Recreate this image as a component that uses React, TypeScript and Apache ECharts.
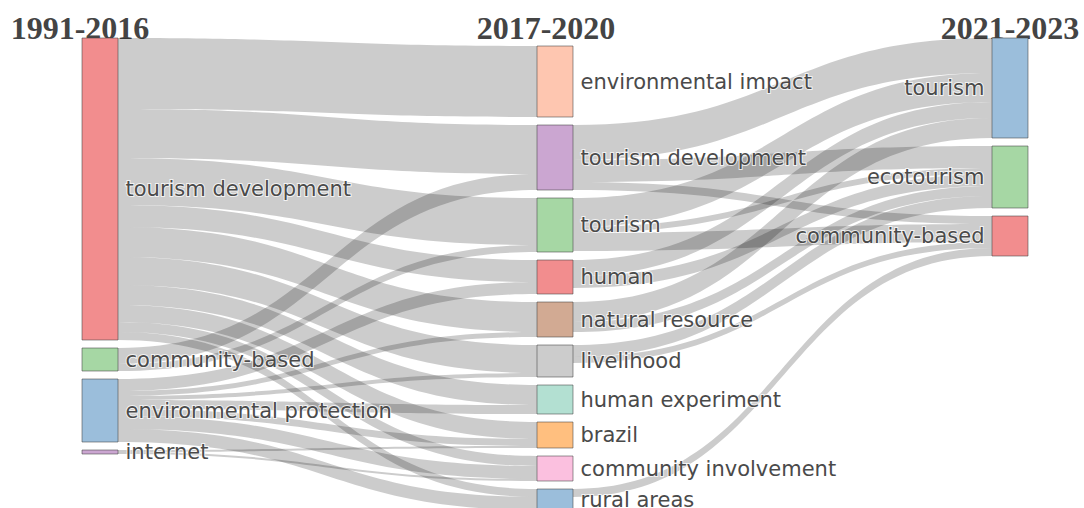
import React, { useEffect, useRef } from "react";
import * as echarts from "echarts";

// Period headers and themes per period
const periods = ["1991-2016", "2017-2020", "2021-2023"];
const themes1991 = ["tourism development", "community-based", "environmental protection", "internet"];
const themes2017 = [
  "environmental impact",
  "tourism development",
  "tourism",
  "human",
  "natural resource",
  "livelihood",
  "human experiment",
  "brazil",
  "community involvement",
  "rural areas",
];
const themes2021 = ["tourism", "ecotourism", "community-based"];

// [theme index in earlier period, theme index in later period, weight]
const flows1991to2017: [number, number, number][] = [
  [0, 0, 71], [0, 1, 49], [0, 2, 47], [0, 3, 22], [0, 4, 30], [0, 5, 28], [0, 6, 20], [0, 7, 17], [0, 8, 10], [0, 9, 8],
  [1, 1, 16], [1, 2, 7],
  [2, 3, 12], [2, 4, 5], [2, 5, 4], [2, 6, 9], [2, 7, 7], [2, 8, 13], [2, 9, 13],
  [3, 7, 2], [3, 8, 2],
];
const flows2017to2021: [number, number, number][] = [
  [1, 0, 35], [1, 1, 22], [1, 2, 8],
  [2, 0, 29], [2, 1, 6], [2, 2, 18],
  [3, 0, 16], [3, 1, 12],
  [4, 0, 20], [4, 1, 10],
  [5, 1, 12], [5, 2, 6],
  [9, 2, 8],
];

// Styles
const colors1991 = ["#F28D8E", "#A6D7A4", "#9BBEDB", "#CBA6D1"];
const colors2017 = ["#FEC6B0", "#CBA6D1", "#A6D7A4", "#F28D8E", "#D2AA93", "#CCCCCC", "#B3E0D2", "#FFBF7F", "#FBC0DF", "#9BBEDB"];
const colors2021 = ["#9BBEDB", "#A6D7A4", "#F28D8E"];
const headerCenters = [80, 546, 1010];

export default function App() {
  const ref = useRef<HTMLDivElement>(null);

  useEffect(() => {
    document.body.style.margin = "0";
    if (!ref.current) return;
    const chart = echarts.init(ref.current, undefined, { renderer: "svg" });

    const columns = [themes1991, themes2017, themes2021];
    const columnColors = [colors1991, colors2017, colors2021];
    const nodes: any[] = [];
    const offsets: number[] = [];
    columns.forEach((names, depth) => {
      if (depth === 1) {
        // invisible spacer that nudges the middle column down by one gap
        nodes.push({
          name: "__spacer__",
          theme: "",
          depth: 1,
          value: 0,
          itemStyle: { opacity: 0, borderWidth: 0 },
          label: { show: false },
          silent: true,
        });
      }
      offsets[depth] = nodes.length;
      names.forEach((theme, i) => {
        nodes.push({
          name: `${periods[depth]}|${theme}`,
          theme,
          depth,
          itemStyle: { color: columnColors[depth][i] },
          label: depth === 2 ? { position: "left" } : { position: "right" },
        });
      });
    });

    const links = [
      ...flows1991to2017.map(([s, t, v]) => ({ source: offsets[0] + s, target: offsets[1] + t, value: v })),
      ...flows2017to2021.map(([s, t, v]) => ({ source: offsets[1] + s, target: offsets[2] + t, value: v })),
    ];

    chart.setOption({
      animation: false,
      backgroundColor: "#ffffff",
      graphic: periods.map((p, i) => ({
        type: "text",
        x: headerCenters[i],
        y: 28,
        silent: true,
        style: {
          text: p,
          fontFamily: "Liberation Serif",
          fontWeight: "bold",
          fontSize: 32,
          fill: "#444444",
          align: "center",
          verticalAlign: "middle",
        },
      })),
      series: [
        {
          type: "sankey",
          left: 82,
          top: 38,
          width: 946,
          height: 472,
          nodeWidth: 36,
          nodeGap: 8,
          layoutIterations: 0,
          nodeAlign: "left",
          draggable: false,
          emphasis: { disabled: true },
          data: nodes,
          links,
          itemStyle: { borderColor: "rgba(68,68,68,0.55)", borderWidth: 1 },
          lineStyle: { color: "#000000", opacity: 0.2, curveness: 0.5 },
          label: {
            show: true,
            distance: 7,
            color: "#4a4a4a",
            fontFamily: "DejaVu Sans",
            fontSize: 21,
            textBorderColor: "rgba(255,255,255,0.75)",
            textBorderWidth: 2,
            formatter: (p: any) => p.data.theme,
          },
        },
      ],
    });

    return () => chart.dispose();
  }, []);

  return <div ref={ref} style={{ width: 1084, height: 508 }} />;
}
